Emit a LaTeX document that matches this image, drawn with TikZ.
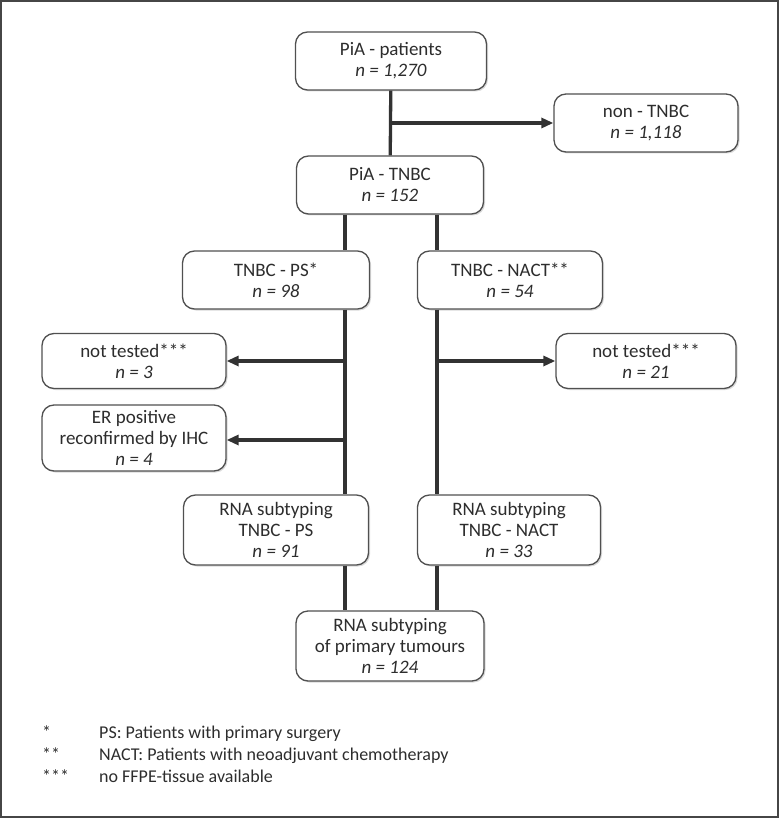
\documentclass[tikz,border=0pt]{standalone}
\usepackage{fontspec}
\setmainfont{Carlito}
\usetikzlibrary{arrows.meta,shadows}
\definecolor{box_line}{RGB}{80,80,80}
\definecolor{flow_line}{RGB}{50,50,50}
\definecolor{txt_grey}{RGB}{45,45,45}
\definecolor{frame_grey}{RGB}{70,70,70}
\tikzstyle{bx}=[rectangle,rounded corners=12pt,fill=white,draw=box_line,
  line width=1.3pt,inner sep=2pt,align=center,text=txt_grey,
  font=\fontsize{19}{21}\selectfont,minimum width=187pt,minimum height=58pt,
  drop shadow={shadow xshift=1.5pt,shadow yshift=-1.5pt,opacity=0.3}]
\tikzstyle{tall}=[minimum height=70pt]
\tikzstyle{side}=[minimum width=184pt,minimum height=55pt]
\tikzstyle{ln}=[draw=flow_line,line width=3.3pt]
\tikzstyle{arr}=[ln,-{Triangle[length=12pt,width=10pt]}]
\tikzstyle{note}=[anchor=base west,inner sep=0pt,text=txt_grey,
  font=\fontsize{18}{22}\selectfont]
\tikzstyle{none}=[]

\begin{document}
\begin{tikzpicture}[x=1pt,y=-1pt]
		\useasboundingbox (0,0) rectangle (779,818);
		\draw [draw=frame_grey,line width=2pt] (1,1) rectangle (778,817);
		\node [style=bx,minimum width=191pt] (0) at (391, 61) {PiA - patients\\\textit{n = 1,270}};
		\node [style=bx,side,minimum height=58pt] (1) at (646, 123) {non - TNBC\\\textit{n = 1,118}};
		\node [style=bx] (2) at (390, 185) {PiA - TNBC\\\textit{n = 152}};
		\node [style=bx] (3) at (276, 280) {TNBC - PS*\\\textit{n = 98}};
		\node [style=bx,minimum width=185pt] (4) at (510, 280) {TNBC - NACT**\\\textit{n = 54}};
		\node [style=bx,side] (5) at (134, 361) {not tested***\\\textit{n = 3}};
		\node [style=bx,side,minimum width=180pt] (6) at (646, 361) {not tested***\\\textit{n = 21}};
		\node [style=bx,side,minimum height=66pt] (7) at (134, 438) {ER positive\\reconfirmed by IHC\\\textit{n = 4}};
		\node [style=bx,tall,minimum width=185pt] (8) at (276, 530) {RNA subtyping\\TNBC - PS\\\textit{n = 91}};
		\node [style=bx,tall,minimum width=183pt] (9) at (509, 530) {RNA subtyping\\TNBC - NACT\\\textit{n = 33}};
		\node [style=bx,tall,minimum width=188pt] (10) at (390, 646) {RNA subtyping\\of primary tumours\\\textit{n = 124}};
		\coordinate (11) at (391, 123);
		\coordinate (12) at (345, 361);
		\coordinate (13) at (345, 440);
		\coordinate (14) at (437, 361);
		\draw [style=ln] (0) to (2);
		\draw [style=arr] (11) to (1);
		\draw [style=ln] (2.south -| 12) to (3.north -| 12);
		\draw [style=ln] (2.south -| 14) to (4.north -| 14);
		\draw [style=ln] (3.south -| 12) to (8.north -| 12);
		\draw [style=ln] (4.south -| 14) to (9.north -| 14);
		\draw [style=arr] (12) to (12 -| 5.east);
		\draw [style=arr] (13) to (13 -| 7.east);
		\draw [style=arr] (14) to (14 -| 6.west);
		\draw [style=ln] (8.south -| 12) to (10.north -| 12);
		\draw [style=ln] (9.south -| 14) to (10.north -| 14);
		\node [style=note] (15) at (42, 738) {*};
		\node [style=note] (16) at (42, 760) {**};
		\node [style=note] (17) at (42, 782) {***};
		\node [style=note] (18) at (99, 738) {PS: Patients with primary surgery};
		\node [style=note] (19) at (99, 760) {NACT: Patients with neoadjuvant chemotherapy};
		\node [style=note] (20) at (99, 782) {no FFPE-tissue available};
\end{tikzpicture}
\end{document}
